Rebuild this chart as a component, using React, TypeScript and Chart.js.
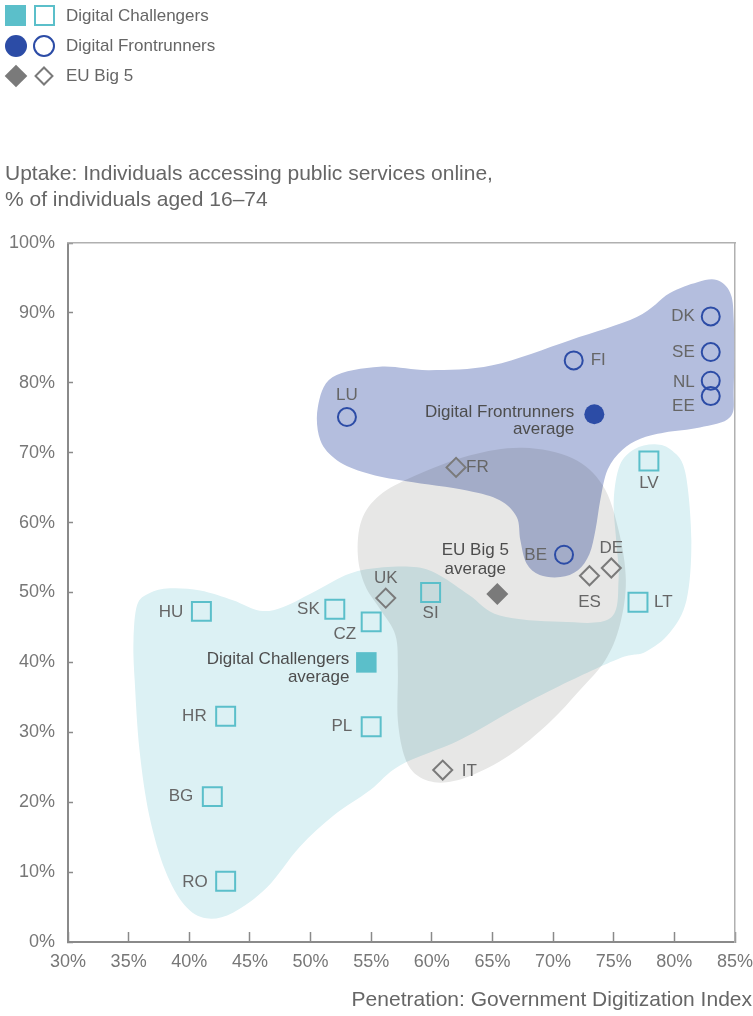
import React, { useEffect, useRef } from 'react';
import { Chart, registerables } from 'chart.js';

Chart.register(...registerables);

// ---------- Data ----------
const challengerCodes = ['HU', 'SK', 'CZ', 'SI', 'LV', 'LT', 'HR', 'BG', 'RO', 'PL'];
const challengerGDI = [41.0, 52.0, 55.0, 59.9, 77.9, 77.0, 43.0, 41.9, 43.0, 55.0];
const challengerUptake = [47.3, 47.6, 45.8, 50.0, 68.8, 48.6, 32.3, 20.8, 8.7, 30.8];

const frontrunnerCodes = ['DK', 'SE', 'NL', 'EE', 'FI', 'LU', 'BE'];
const frontrunnerGDI = [83.0, 83.0, 83.0, 83.0, 71.7, 53.0, 70.9];
const frontrunnerUptake = [89.5, 84.4, 80.3, 78.1, 83.2, 75.1, 55.4];

const big5Codes = ['FR', 'UK', 'DE', 'ES', 'IT'];
const big5GDI = [62.0, 56.2, 74.8, 73.0, 60.9];
const big5Uptake = [67.9, 49.2, 53.5, 52.4, 24.6];

const challengerAvg = [54.6, 40.0];
const frontrunnerAvg = [73.4, 75.5];
const big5Avg = [65.4, 49.8];

const xTickValues = [30, 35, 40, 45, 50, 55, 60, 65, 70, 75, 80, 85];
const yTickValues = [0, 10, 20, 30, 40, 50, 60, 70, 80, 90, 100];

// cluster outlines (data units)
const challengerBlobX = [35.7, 36.7, 38.4, 40.9, 43.6, 45.8, 47.7, 50.5, 53.2, 56.0, 58.8, 60.7, 63.1, 65.6, 70.6, 74.7, 75.4, 75.2, 75.0, 75.5, 76.7, 78.4, 79.8, 80.9, 81.4, 81.0, 79.6, 77.6, 75.5, 70.6, 66.7, 62.3, 57.4, 54.9, 51.9, 49.1, 46.4, 43.6, 41.4, 39.6, 38.0, 36.7, 35.9, 35.5, 35.4];
const challengerBlobY = [48.2, 49.9, 50.6, 50.3, 48.9, 47.4, 47.9, 50.3, 52.7, 53.6, 53.6, 52.4, 49.6, 46.7, 45.8, 46.3, 51.8, 57.5, 63.2, 68.2, 70.5, 71.2, 70.3, 67.2, 57.5, 48.9, 44.2, 41.5, 40.6, 36.7, 33.2, 28.9, 25.3, 21.7, 18.1, 13.6, 7.8, 4.2, 3.4, 5.3, 10.3, 18.1, 27.4, 37.4, 43.1];

const frontrunnerBlobX = [50.6, 51.8, 55.7, 59.8, 65.0, 71.4, 76.9, 79.6, 81.9, 83.5, 84.6, 84.9, 84.9, 84.6, 82.1, 79.2, 77.2, 75.7, 74.5, 73.9, 73.5, 73.0, 72.05, 70.6, 68.9, 67.8, 67.3, 67.0, 65.6, 62.9, 57.9, 54.6, 52.2, 50.8];
const frontrunnerBlobY = [76.5, 80.8, 82.3, 81.8, 82.5, 86.1, 89.4, 92.8, 94.4, 94.7, 92.9, 89.0, 79.4, 75.1, 73.6, 72.9, 72.0, 70.4, 67.6, 63.3, 59.0, 55.5, 53.2, 52.2, 52.5, 54.2, 57.5, 60.8, 63.2, 64.6, 65.9, 67.1, 68.9, 71.8];

const big5BlobX = [54.2, 55.7, 58.6, 63.1, 67.5, 71.6, 74.1, 75.4, 76.0, 75.5, 74.3, 72.2, 69.7, 66.4, 63.1, 60.7, 58.9, 57.8, 57.2, 57.2, 57.0, 55.7, 54.5, 53.9];
const big5BlobY = [60.3, 63.9, 66.7, 69.6, 70.7, 69.2, 65.3, 58.9, 51.7, 45.3, 40.3, 36.0, 31.4, 26.7, 23.7, 22.8, 23.7, 26.3, 31.7, 38.9, 43.9, 47.7, 51.0, 55.3];

// ---------- Styles ----------
const FONT = '"Liberation Sans", Arial, Helvetica, sans-serif';
const TEAL = '#5bbfca';
const BLUE = '#2c4ca6';
const GREY = '#7a7a7a';

const BLOBS = [
  { xs: challengerBlobX, ys: challengerBlobY, color: '#dcf1f4', blend: 'source-over' },
  { xs: frontrunnerBlobX, ys: frontrunnerBlobY, color: '#b4bede', blend: 'source-over' },
  { xs: big5BlobX, ys: big5BlobY, color: '#e7e7e6', blend: 'multiply' },
];

type Place = { dx: number; dy: number; align: CanvasTextAlign };
const LABEL_PLACE: Record<string, Place> = {
  HU: { dx: -18, dy: 1, align: 'right' },
  SK: { dx: -15, dy: 0, align: 'right' },
  CZ: { dx: -15, dy: 12, align: 'right' },
  SI: { dx: 0, dy: 21, align: 'center' },
  LV: { dx: 0, dy: 22, align: 'center' },
  LT: { dx: 16, dy: 0, align: 'left' },
  HR: { dx: -19, dy: 0, align: 'right' },
  BG: { dx: -19, dy: 0, align: 'right' },
  RO: { dx: -18, dy: 1, align: 'right' },
  PL: { dx: -19, dy: 0, align: 'right' },
  DK: { dx: -16, dy: 0, align: 'right' },
  SE: { dx: -16, dy: 0, align: 'right' },
  NL: { dx: -16, dy: 2, align: 'right' },
  EE: { dx: -16, dy: 10, align: 'right' },
  FI: { dx: 17, dy: 0, align: 'left' },
  LU: { dx: 0, dy: -22, align: 'center' },
  BE: { dx: -17, dy: 1, align: 'right' },
  FR: { dx: 10, dy: 0, align: 'left' },
  UK: { dx: 0, dy: -20, align: 'center' },
  DE: { dx: 0, dy: -20, align: 'center' },
  ES: { dx: 0, dy: 27, align: 'center' },
  IT: { dx: 19, dy: 1, align: 'left' },
};

const AVG_PLACE: Record<string, { lines: string[]; dx: number; dys: number[]; align: CanvasTextAlign }> = {
  dc: { lines: ['Digital Challengers', 'average'], dx: -17, dys: [-3, 15], align: 'right' },
  df: { lines: ['Digital Frontrunners', 'average'], dx: -20, dys: [-2, 15], align: 'right' },
  eu: { lines: ['EU Big 5', 'average'], dx: -22, dys: [-44, -25], align: 'center' },
};

function smoothClosed(ctx: CanvasRenderingContext2D, pts: number[][]) {
  const n = pts.length;
  ctx.moveTo(pts[0][0], pts[0][1]);
  for (let i = 0; i < n; i++) {
    const p0 = pts[(i - 1 + n) % n];
    const p1 = pts[i];
    const p2 = pts[(i + 1) % n];
    const p3 = pts[(i + 2) % n];
    const c1x = p1[0] + (p2[0] - p0[0]) / 6;
    const c1y = p1[1] + (p2[1] - p0[1]) / 6;
    const c2x = p2[0] - (p3[0] - p1[0]) / 6;
    const c2y = p2[1] - (p3[1] - p1[1]) / 6;
    ctx.bezierCurveTo(c1x, c1y, c2x, c2y, p2[0], p2[1]);
  }
  ctx.closePath();
}

const blobPlugin = {
  id: 'blobs',
  beforeDatasetsDraw(chart: any) {
    const { ctx, chartArea, scales } = chart;
    const sx = scales.x;
    const sy = scales.y;
    ctx.save();
    ctx.beginPath();
    ctx.rect(chartArea.left, chartArea.top, chartArea.right - chartArea.left, chartArea.bottom - chartArea.top);
    ctx.clip();
    for (const b of BLOBS) {
      const pts = b.xs.map((v, i) => [sx.getPixelForValue(v), sy.getPixelForValue(b.ys[i])]);
      ctx.globalCompositeOperation = b.blend;
      ctx.fillStyle = b.color;
      ctx.beginPath();
      smoothClosed(ctx, pts);
      ctx.fill();
    }
    ctx.restore();
  },
};

const labelPlugin = {
  id: 'pointLabels',
  afterDatasetsDraw(chart: any) {
    const { ctx } = chart;
    ctx.save();
    ctx.textBaseline = 'middle';
    chart.data.datasets.forEach((ds: any, di: number) => {
      const meta = chart.getDatasetMeta(di);
      meta.data.forEach((el: any, i: number) => {
        if (ds.avgKey) {
          const p = AVG_PLACE[ds.avgKey];
          ctx.font = `17px ${FONT}`;
          ctx.fillStyle = '#4d4d4d';
          ctx.textAlign = p.align;
          p.lines.forEach((t, li) => ctx.fillText(t, el.x + p.dx, el.y + p.dys[li]));
        } else if (ds.codes) {
          const code = ds.codes[i];
          const p = LABEL_PLACE[code] || { dx: 14, dy: 0, align: 'left' };
          ctx.font = `17px ${FONT}`;
          ctx.fillStyle = '#666666';
          ctx.textAlign = p.align;
          ctx.fillText(code, el.x + p.dx, el.y + p.dy);
        }
      });
    });
    ctx.restore();
  },
};

const pts = (xs: number[], ys: number[]) => xs.map((x, i) => ({ x, y: ys[i] }));

function LegendRow({ top, kind, color, text }: { top: number; kind: string; color: string; text: string }) {
  const base: React.CSSProperties = { position: 'absolute', boxSizing: 'border-box' };
  let filled: React.CSSProperties;
  let outline: React.CSSProperties;
  if (kind === 'square') {
    filled = { ...base, left: 5, top: top - 11, width: 21, height: 21, background: color };
    outline = { ...base, left: 34, top: top - 11, width: 21, height: 21, border: `2px solid ${color}` };
  } else if (kind === 'circle') {
    filled = { ...base, left: 5, top: top - 11, width: 22, height: 22, borderRadius: '50%', background: color };
    outline = { ...base, left: 33, top: top - 11, width: 22, height: 22, borderRadius: '50%', border: `2px solid ${color}` };
  } else {
    filled = { ...base, left: 8, top: top - 8, width: 16, height: 16, background: color, transform: 'rotate(45deg)' };
    outline = { ...base, left: 37, top: top - 7, width: 14, height: 14, border: `2px solid ${color}`, transform: 'rotate(45deg)' };
  }
  return (
    <>
      <div style={filled} />
      <div style={outline} />
      <div style={{ position: 'absolute', left: 66, top: top - 11, height: 22, lineHeight: '22px', fontSize: 17, color: '#666', whiteSpace: 'nowrap' }}>{text}</div>
    </>
  );
}

export default function App() {
  const ref = useRef<HTMLCanvasElement | null>(null);

  useEffect(() => {
    if (!ref.current) return;
    const chart = new Chart(ref.current, {
      type: 'scatter',
      data: {
        datasets: [
          {
            label: 'Digital Challengers',
            codes: challengerCodes,
            data: pts(challengerGDI, challengerUptake),
            pointStyle: 'rect',
            pointRadius: 13.4,
            borderWidth: 2,
            borderColor: TEAL,
            backgroundColor: 'rgba(0,0,0,0)',
          } as any,
          {
            label: 'Digital Frontrunners',
            codes: frontrunnerCodes,
            data: pts(frontrunnerGDI, frontrunnerUptake),
            pointStyle: 'circle',
            pointRadius: 9,
            borderWidth: 2,
            borderColor: BLUE,
            backgroundColor: 'rgba(0,0,0,0)',
          } as any,
          {
            label: 'EU Big 5',
            codes: big5Codes,
            data: pts(big5GDI, big5Uptake),
            pointStyle: 'rectRot',
            pointRadius: 9.5,
            borderWidth: 2,
            borderColor: GREY,
            backgroundColor: 'rgba(0,0,0,0)',
          } as any,
          {
            label: 'Digital Challengers average',
            avgKey: 'dc',
            data: [{ x: challengerAvg[0], y: challengerAvg[1] }],
            pointStyle: 'rect',
            pointRadius: 14.5,
            borderWidth: 0,
            backgroundColor: TEAL,
          } as any,
          {
            label: 'Digital Frontrunners average',
            avgKey: 'df',
            data: [{ x: frontrunnerAvg[0], y: frontrunnerAvg[1] }],
            pointStyle: 'circle',
            pointRadius: 10,
            borderWidth: 0,
            backgroundColor: BLUE,
          } as any,
          {
            label: 'EU Big 5 average',
            avgKey: 'eu',
            data: [{ x: big5Avg[0], y: big5Avg[1] }],
            pointStyle: 'rectRot',
            pointRadius: 11,
            borderWidth: 0,
            backgroundColor: GREY,
          } as any,
        ],
      },
      options: {
        responsive: false,
        animation: false,
        events: [],
        layout: { padding: { top: 243, right: 18, bottom: 34, left: 0 } },
        plugins: { legend: { display: false }, tooltip: { enabled: false }, title: { display: false } },
        scales: {
          x: {
            type: 'linear',
            position: 'bottom',
            min: xTickValues[0],
            max: xTickValues[xTickValues.length - 1],
            afterBuildTicks: (s: any) => { s.ticks = xTickValues.map((v) => ({ value: v })); },
            afterFit: (s: any) => { s.height = 40; s.paddingLeft = 0; s.paddingRight = 0; },
            ticks: {
              callback: (v: any) => `${v}%`,
              font: { family: FONT, size: 18 },
              color: '#777',
              padding: 19,
              maxRotation: 0,
              autoSkip: false,
            },
            grid: { drawOnChartArea: false, drawTicks: true, tickLength: -10, tickColor: '#8a8a8a', tickWidth: 1.5 },
            border: { display: true, color: '#8a8a8a', width: 2 },
          },
          y: {
            type: 'linear',
            position: 'left',
            min: yTickValues[0],
            max: yTickValues[yTickValues.length - 1],
            afterBuildTicks: (s: any) => { s.ticks = yTickValues.map((v) => ({ value: v })); },
            afterFit: (s: any) => { s.width = 68; s.paddingTop = 0; s.paddingBottom = 0; },
            ticks: {
              callback: (v: any) => `${v}%`,
              font: { family: FONT, size: 18 },
              color: '#777',
              padding: 18,
              autoSkip: false,
            },
            grid: { drawOnChartArea: false, drawTicks: true, tickLength: -5, tickColor: '#8a8a8a', tickWidth: 1.5 },
            border: { display: true, color: '#8a8a8a', width: 2 },
          },
          x2: {
            type: 'linear',
            position: 'top',
            display: true,
            min: xTickValues[0],
            max: xTickValues[xTickValues.length - 1],
            afterFit: (s: any) => { s.height = 0; s.paddingLeft = 0; s.paddingRight = 0; },
            ticks: { display: false },
            grid: { display: false },
            border: { display: true, color: '#b0b0b0', width: 1.5 },
          },
          y2: {
            type: 'linear',
            position: 'right',
            display: true,
            min: yTickValues[0],
            max: yTickValues[yTickValues.length - 1],
            afterFit: (s: any) => { s.width = 0; s.paddingTop = 0; s.paddingBottom = 0; },
            ticks: { display: false },
            grid: { display: false },
            border: { display: true, color: '#b0b0b0', width: 1.5 },
          },
        },
      } as any,
      plugins: [blobPlugin, labelPlugin],
    });
    return () => chart.destroy();
  }, []);

  return (
    <div style={{ position: 'absolute', left: 0, top: 0, width: 753, height: 1016, fontFamily: FONT, overflow: 'hidden', background: '#fff' }}>
      <canvas ref={ref} width={753} height={1016} style={{ position: 'absolute', left: 0, top: 0, width: 753, height: 1016 }} />
      <LegendRow top={16} kind="square" color={TEAL} text="Digital Challengers" />
      <LegendRow top={46} kind="circle" color={BLUE} text="Digital Frontrunners" />
      <LegendRow top={76} kind="diamond" color={GREY} text="EU Big 5" />
      <div style={{ position: 'absolute', left: 5, top: 160, fontSize: 21, lineHeight: '26px', color: '#666', whiteSpace: 'nowrap' }}>
        Uptake: Individuals accessing public services online,
        <br />% of individuals aged 16–74
      </div>
      <div style={{ position: 'absolute', right: 1, top: 987, fontSize: 21, lineHeight: '24px', color: '#666', whiteSpace: 'nowrap' }}>
        Penetration: Government Digitization Index
      </div>
    </div>
  );
}
